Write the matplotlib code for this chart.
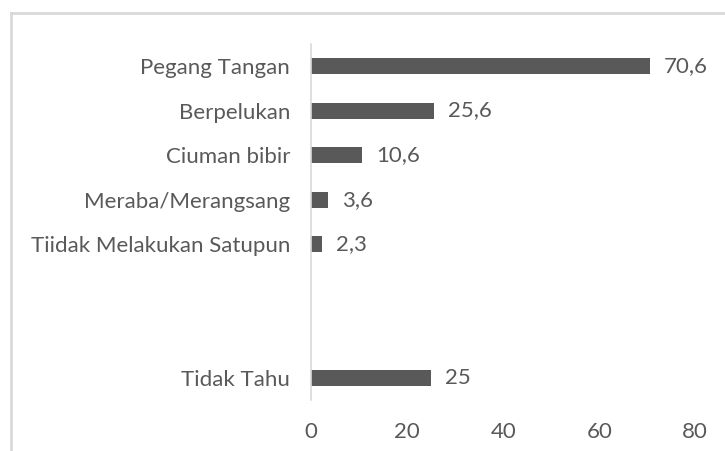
import matplotlib
matplotlib.use("Agg")
import matplotlib.pyplot as plt
from matplotlib.lines import Line2D

categories = ["Pegang Tangan", "Berpelukan", "Ciuman bibir", "Meraba/Merangsang",
              "Tiidak Melakukan Satupun", "", "", "Tidak Tahu"]
values = [70.6, 25.6, 10.6, 3.6, 2.3, None, None, 25]
labels = ["70,6", "25,6", "10,6", "3,6", "2,3", "", "", "25"]
xticks = [0, 20, 40, 60, 80]

GREY = "#595959"
FS = 16
plt.rcParams["font.family"] = ["Lato", "DejaVu Sans"]

fig = plt.figure(figsize=(7.25, 4.51), dpi=100)
ax = fig.add_axes([0.429, 0.113, 0.53, 0.79])

pos = list(range(len(categories)))
for y, v, lab in zip(pos, values, labels):
    if v is None:
        continue
    ax.barh(y, v, height=0.36, color=GREY)
    ax.annotate(lab, (v, y), xytext=(10, 0), textcoords="offset points",
                va="center", ha="left", fontsize=FS, color=GREY)

ax.set_ylim(len(categories) - 0.5, -0.5)
ax.set_xlim(0, 80)
ax.set_yticks(pos)
ax.set_yticklabels(categories)
ax.set_xticks(xticks)
ax.set_xticklabels([str(t) for t in xticks])
ax.tick_params(axis="y", length=0, pad=15, labelsize=FS, labelcolor=GREY)
ax.tick_params(axis="x", length=0, pad=16, labelsize=FS, labelcolor=GREY)

for s in ["top", "right", "bottom"]:
    ax.spines[s].set_visible(False)
ax.spines["left"].set_color("#d9d9d9")
ax.spines["left"].set_linewidth(1.2)

# outer chart frame (only left and top edges are visible)
fig.add_artist(Line2D([11 / 725, 11 / 725], [0, 1 - 13 / 451], color="#d9d9d9", lw=2,
                      transform=fig.transFigure))
fig.add_artist(Line2D([11 / 725, 1], [1 - 13 / 451, 1 - 13 / 451], color="#d9d9d9", lw=2,
                      transform=fig.transFigure))

fig.savefig("out.png", dpi=100)
